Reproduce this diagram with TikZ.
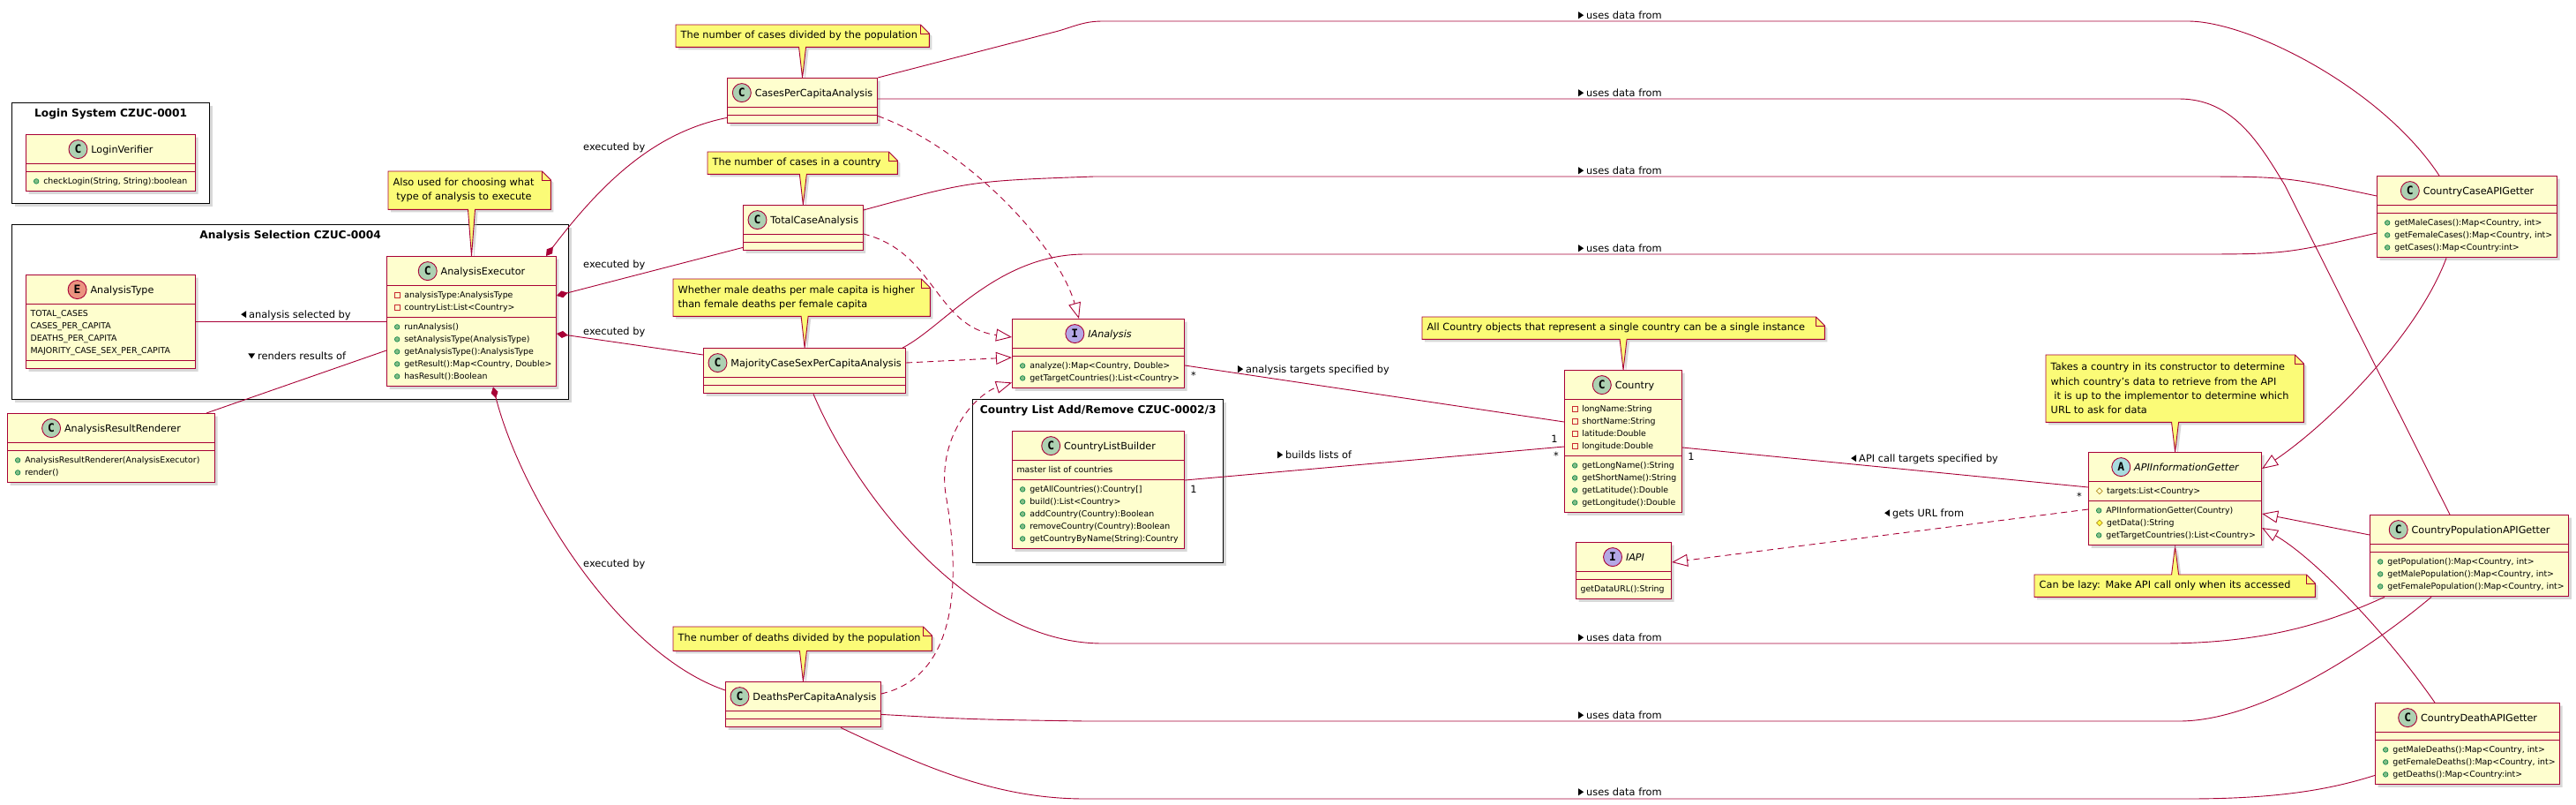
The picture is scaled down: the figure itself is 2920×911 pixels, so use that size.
\documentclass[tikz,border=0pt]{standalone}
\usepackage{fontspec}
\setmainfont{DejaVu Sans}
\newfontfamily\iconfont{DejaVu Sans Mono}
\usetikzlibrary{shapes.multipart,arrows.meta,calc,shadows}
\definecolor{umlRed}{HTML}{A80036}
\definecolor{classFill}{HTML}{FEFECE}
\definecolor{noteFill}{HTML}{FBFB77}
\definecolor{iconC}{HTML}{ADD1B2}
\definecolor{iconE}{HTML}{EB937F}
\definecolor{iconI}{HTML}{B4A7E5}
\definecolor{iconA}{HTML}{A9DCDF}
\definecolor{pubFill}{HTML}{84BE84}
\definecolor{pubLine}{HTML}{038048}
\definecolor{privLine}{HTML}{C82930}
\definecolor{protLine}{HTML}{B38D22}
\definecolor{protFill}{HTML}{FFFF44}
\pgfdeclarelayer{bg}
\pgfsetlayers{bg,main}

\newcommand{\membfont}{\fontsize{9.4}{14}\selectfont}
\newcommand{\namefont}{\fontsize{11.2}{13}\selectfont}
\newcommand{\notefont}{\fontsize{11.3}{16.3}\selectfont}
\newcommand{\edgefont}{\fontsize{11.4}{13}\selectfont}
\newcommand{\pkgfont}{\fontsize{12.2}{14}\selectfont\bfseries}

\tikzset{
  shadowed/.style={drop shadow={shadow xshift=3pt,shadow yshift=-3pt,fill=black!30,opacity=.5}},
  icon/.style={shape=circle,anchor=center,draw=umlRed,line width=.9pt,inner sep=0pt,minimum size=21pt,
    text=black,font=\iconfont\fontsize{13}{13}\selectfont\bfseries},
  umlclass/.style={rectangle split,rectangle split parts=3,rectangle split part align={center,left,left},
    draw=umlRed,fill=classFill,line width=1.1pt,inner xsep=5pt,inner ysep=3.5pt,
    font=\membfont,anchor=north west,shadowed},
  pkg/.style={draw=black,fill=white,line width=1.4pt,inner sep=0pt,anchor=north west,shadowed},
  pkgtitle/.style={font=\pkgfont,inner sep=0pt,anchor=base},
  notetext/.style={anchor=north west,inner xsep=5.5pt,inner ysep=0pt,align=left,font=\notefont},
  noteshape/.style={draw=umlRed,fill=noteFill,line width=.9pt,shadowed},
  assoc/.style={draw=umlRed,line width=.9pt},
  compose/.style={assoc,{Diamond[length=13pt,width=8pt]}-},
  realize/.style={assoc,dash pattern=on 7pt off 5pt,-{Triangle[open,length=18pt,width=14pt]}},
  extend/.style={assoc,-{Triangle[open,length=18pt,width=14pt]}},
  lbl/.style={font=\edgefont,inner sep=0pt,anchor=west},
  mult/.style={font=\edgefont,inner sep=0pt}
}

% class header: letter, circle colour, name
\newcommand{\hdr}[3]{\rule[-8.5pt]{0pt}{25pt}\tikz[baseline=-4pt]\node[icon,fill=#2]{#1};\hspace{4pt}{\namefont #3}}
% an empty compartment
\newcommand{\emptyc}{\rule{0pt}{1pt}\hspace*{1pt}}
% a compartment of several lines
\newcommand{\mlist}[1]{\begin{tabular}{@{}l@{}}#1\end{tabular}}
% members
\newcommand{\pubm}[1]{\strut\hspace*{3.5pt}\tikz[baseline=-3.2pt]\filldraw[fill=pubFill,draw=pubLine,line width=.6pt] (0pt,0pt) circle[radius=2.8pt];\hspace{5pt}#1}
\newcommand{\privm}[1]{\strut\hspace*{3.5pt}\tikz[baseline=-3.2pt]\draw[privLine,line width=.7pt] (-2.8pt,-2.8pt) rectangle (2.8pt,2.8pt);\hspace{5pt}#1}
\newcommand{\protf}[1]{\strut\hspace*{3.5pt}\tikz[baseline=-3.2pt]\draw[protLine,line width=.7pt] (0pt,3.4pt) -- (3.4pt,0pt) -- (0pt,-3.4pt) -- (-3.4pt,0pt) -- cycle;\hspace{4.5pt}#1}
\newcommand{\protm}[1]{\strut\hspace*{3.5pt}\tikz[baseline=-3.2pt]\filldraw[fill=protFill,draw=protLine,line width=.7pt] (0pt,3.4pt) -- (3.4pt,0pt) -- (0pt,-3.4pt) -- (-3.4pt,0pt) -- cycle;\hspace{4.5pt}#1}
% direction marks on edge labels
\newcommand{\rtri}{\tikz[baseline=0pt]\fill (0pt,0pt) -- (0pt,8pt) -- (6pt,4pt) -- cycle;\hspace{3pt}}
\newcommand{\ltri}{\tikz[baseline=0pt]\fill (6pt,0pt) -- (6pt,8pt) -- (0pt,4pt) -- cycle;\hspace{3pt}}
\newcommand{\dtri}{\tikz[baseline=0pt]\fill (0pt,7pt) -- (8pt,7pt) -- (4pt,1pt) -- cycle;\hspace{3pt}}

% note outline under the text, pointer going down to #2
\newcommand{\notedown}[2]{%
  \begin{pgfonlayer}{bg}
    \draw[noteshape] (#1.north west) -- ($(#1.north east)+(-10,0)$) -- ($(#1.north east)+(0,10)$)
      -- (#1.south east) -- ($(#1.south -| #2)+(4,0)$) -- (#2) -- ($(#1.south -| #2)+(-4,0)$)
      -- (#1.south west) -- cycle;
    \draw[assoc] ($(#1.north east)+(-10,0)$) -- ($(#1.north east)+(-10,10)$) -- ($(#1.north east)+(0,10)$);
  \end{pgfonlayer}}

\begin{document}
\begin{tikzpicture}[x=1pt,y=-1pt]
  \useasboundingbox (0,0) rectangle (2920,911);
  \begin{pgfonlayer}{bg}
    \fill[white] (0,0) rectangle (2920,911);
    \node[pkg,minimum width=224pt,minimum height=114pt] (pkglogin) at (13,116) {};
    \node[pkg,minimum width=631pt,minimum height=198pt] (pkgsel) at (13,254) {};
    \node[pkg,minimum width=284pt,minimum height=185pt] (pkglist) at (1102,452) {};
  \end{pgfonlayer}
  \node[pkgtitle] (tlogin) at ($(pkglogin.north)+(0,16.5)$) {Login System CZUC-0001};
  \node[pkgtitle] (tsel) at ($(pkgsel.north)+(0,16.5)$) {Analysis Selection CZUC-0004};
  \node[pkgtitle] (tlist) at ($(pkglist.north)+(0,16.5)$) {Country List Add/Remove CZUC-0002/3};

  % classes
  \node[umlclass,minimum width=192pt] (lv) at (29,152)
    {\hdr{C}{iconC}{LoginVerifier}\nodepart{two}\emptyc\nodepart{three}\pubm{checkLogin(String, String):boolean}};
  \node[umlclass,minimum width=192pt] (atype) at (29,311)
    {\hdr{E}{iconE}{AnalysisType}\nodepart{two}\mlist{TOTAL\_CASES\\CASES\_PER\_CAPITA\\DEATHS\_PER\_CAPITA\\MAJORITY\_CASE\_SEX\_PER\_CAPITA}\nodepart{three}\emptyc};
  \node[umlclass,minimum width=190pt] (aexec) at (438,290)
    {\hdr{C}{iconC}{AnalysisExecutor}\nodepart{two}\mlist{\privm{analysisType:AnalysisType}\\\privm{countryList:List<Country>}}
     \nodepart{three}\mlist{\pubm{runAnalysis()}\\\pubm{setAnalysisType(AnalysisType)}\\\pubm{getAnalysisType():AnalysisType}\\\pubm{getResult():Map<Country, Double>}\\\pubm{hasResult():Boolean}}};
  \node[umlclass,minimum width=235pt] (arend) at (8,468)
    {\hdr{C}{iconC}{AnalysisResultRenderer}\nodepart{two}\emptyc\nodepart{three}\mlist{\pubm{AnalysisResultRenderer(AnalysisExecutor)}\\\pubm{render()}}};
  \node[umlclass,minimum width=170pt] (cpc) at (824,88) {\hdr{C}{iconC}{CasesPerCapitaAnalysis}\nodepart{two}\emptyc\nodepart{three}\emptyc};
  \node[umlclass,minimum width=135pt] (tca) at (842,232) {\hdr{C}{iconC}{TotalCaseAnalysis}\nodepart{two}\emptyc\nodepart{three}\emptyc};
  \node[umlclass,minimum width=224pt] (mcs) at (797,394) {\hdr{C}{iconC}{MajorityCaseSexPerCapitaAnalysis}\nodepart{two}\emptyc\nodepart{three}\emptyc};
  \node[umlclass,minimum width=173pt] (dpc) at (822,772) {\hdr{C}{iconC}{DeathsPerCapitaAnalysis}\nodepart{two}\emptyc\nodepart{three}\emptyc};
  \node[umlclass,minimum width=195pt] (ianalysis) at (1147,361)
    {\hdr{I}{iconI}{\itshape IAnalysis}\nodepart{two}\emptyc\nodepart{three}\mlist{\pubm{analyze():Map<Country, Double>}\\\pubm{getTargetCountries():List<Country>}}};
  \node[umlclass,minimum width=195pt] (clb) at (1147,488)
    {\hdr{C}{iconC}{CountryListBuilder}\nodepart{two}\strut master list of countries
     \nodepart{three}\mlist{\pubm{getAllCountries():Country[]}\\\pubm{build():List<Country>}\\\pubm{addCountry(Country):Boolean}\\\pubm{removeCountry(Country):Boolean}\\\pubm{getCountryByName(String):Country}}};
  \node[umlclass,minimum width=133pt] (country) at (1773,419)
    {\hdr{C}{iconC}{Country}\nodepart{two}\mlist{\privm{longName:String}\\\privm{shortName:String}\\\privm{latitude:Double}\\\privm{longitude:Double}}
     \nodepart{three}\mlist{\pubm{getLongName():String}\\\pubm{getShortName():String}\\\pubm{getLatitude():Double}\\\pubm{getLongitude():Double}}};
  \node[umlclass,minimum width=108pt] (iapi) at (1786,614)
    {\hdr{I}{iconI}{\itshape IAPI}\nodepart{two}\emptyc\nodepart{three}\strut getDataURL():String};
  \node[umlclass,minimum width=196pt] (apiget) at (2367,512)
    {\hdr{A}{iconA}{\itshape APIInformationGetter}\nodepart{two}\protf{targets:List<Country>}
     \nodepart{three}\mlist{\pubm{APIInformationGetter(Country)}\\\protm{getData():String}\\\pubm{getTargetCountries():List<Country>}}};
  \node[umlclass,minimum width=204pt] (ccase) at (2694,199)
    {\hdr{C}{iconC}{CountryCaseAPIGetter}\nodepart{two}\emptyc\nodepart{three}\mlist{\pubm{getMaleCases():Map<Country, int>}\\\pubm{getFemaleCases():Map<Country, int>}\\\pubm{getCases():Map<Country:int>}}};
  \node[umlclass,minimum width=221pt] (cpop) at (2686,583)
    {\hdr{C}{iconC}{CountryPopulationAPIGetter}\nodepart{two}\emptyc\nodepart{three}\mlist{\pubm{getPopulation():Map<Country, int>}\\\pubm{getMalePopulation():Map<Country, int>}\\\pubm{getFemalePopulation():Map<Country, int>}}};
  \node[umlclass,minimum width=207pt] (cdeath) at (2692,796)
    {\hdr{C}{iconC}{CountryDeathAPIGetter}\nodepart{two}\emptyc\nodepart{three}\mlist{\pubm{getMaleDeaths():Map<Country, int>}\\\pubm{getFemaleDeaths():Map<Country, int>}\\\pubm{getDeaths():Map<Country:int>}}};

  % notes
  \node[notetext,minimum height=43pt,text width=173pt] (nexec) at (440,194) {Also used for choosing what\\\ type of analysis to execute};
  \notedown{nexec}{aexec.north}
  \node[notetext,minimum height=25pt,text width=276pt] (ncpc) at (766,28) {The number of cases divided by the population};
  \notedown{ncpc}{cpc.north}
  \node[notetext,minimum height=25pt,text width=204pt] (ntca) at (802,172) {The number of cases in a country};
  \notedown{ntca}{tca.north}
  \node[notetext,minimum height=42pt,text width=280pt] (nmcs) at (763,316) {Whether male deaths per male capita is higher\\than female deaths per female capita};
  \notedown{nmcs}{mcs.north}
  \node[notetext,minimum height=27pt,text width=282pt] (ndpc) at (763,710) {The number of deaths divided by the population};
  \notedown{ndpc}{dpc.north}
  \node[notetext,minimum height=25pt,text width=445pt] (ncountry) at (1612,359) {All Country objects that represent a single country can be a single instance};
  \notedown{ncountry}{country.north}
  \node[notetext,minimum height=76pt,text width=281pt] (napi) at (2319,402) {Takes a country in its constructor to determine\\which country's data to retrieve from the API\\\ it is up to the implementor to determine which\\URL to ask for data};
  \notedown{napi}{apiget.north}
  \node[notetext,minimum height=25pt,text width=307pt] (nlazy) at (2306,651) {Can be lazy: Make API call only when its accessed};
  \begin{pgfonlayer}{bg}
    \draw[noteshape] (nlazy.north west) -- ($(nlazy.north -| apiget.south)+(-4,0)$) -- (apiget.south)
      -- ($(nlazy.north -| apiget.south)+(4,0)$) -- ($(nlazy.north east)+(-10,0)$) -- ($(nlazy.north east)+(0,10)$)
      -- (nlazy.south east) -- (nlazy.south west) -- cycle;
    \draw[assoc] ($(nlazy.north east)+(-10,0)$) -- ($(nlazy.north east)+(-10,10)$) -- ($(nlazy.north east)+(0,10)$);
  \end{pgfonlayer}

  % analysis selection
  \draw[assoc] (atype.east) -- (aexec.west |- atype.east);
  \node[lbl] (lsel) at (273,357) {\ltri analysis selected by};
  \draw[assoc] ($(arend.north west)+(226,0)$) -- ($(aexec.north west)+(0,107)$);
  \node[lbl] (lrend) at (281,403) {\dtri renders results of};

  % executed by
  \draw[compose] ($(aexec.north east)+(-12,0)$) .. controls (680,210) and (740,150) .. ($(cpc.south west)+(0,-7)$);
  \draw[compose] ($(aexec.north east)+(0,45)$) -- ($(tca.south west)+(0,-4)$);
  \draw[compose] ($(aexec.north east)+(0,88)$) -- ($(mcs.north west)+(0,8)$);
  \draw[compose] ($(aexec.south west)+(121,0)$) .. controls (590,560) and (700,740) .. ($(dpc.north west)+(0,10)$);
  \node[lbl] (lex1) at (661,167) {executed by};
  \node[lbl] (lex2) at (661,300) {executed by};
  \node[lbl] (lex3) at (661,376) {executed by};
  \node[lbl] (lex4) at (661,639) {executed by};

  % implementations of IAnalysis
  \draw[realize] ($(cpc.south east)+(0,-9)$) .. controls (1100,170) and (1200,280) .. ($(ianalysis.north west)+(76,0)$);
  \draw[realize] ($(tca.north east)+(0,33)$) .. controls (1060,285) and (1060,370) .. ($(ianalysis.north west)+(0,21)$);
  \draw[realize] ($(mcs.north east)+(0,17)$) -- ($(ianalysis.north west)+(0,44)$);
  \draw[realize] ($(dpc.north east)+(0,14)$) .. controls (1070,770) and (1095,690) .. (1072,560)
    .. controls (1062,490) and (1110,445) .. ($(ianalysis.south west)+(0,-7)$);

  % uses data from
  \draw[assoc] (cpc.north east) -- (1200,35) .. controls (1220,29) and (1230,24) .. (1250,24) -- (2480,24)
    .. controls (2550,24) and (2700,100) .. ($(ccase.north west)+(71,0)$);
  \draw[assoc] ($(cpc.north east)+(0,24)$) -- (2470,112) .. controls (2530,112) and (2560,160) .. (2590,210)
    -- ($(cpop.north west)+(91,0)$);
  \draw[assoc] ($(tca.north east)+(0,6)$) .. controls (1100,205) .. (1240,200) -- (2480,200)
    .. controls (2590,200) .. ($(ccase.north west)+(0,23)$);
  \draw[assoc] ($(mcs.north east)+(-4,0)$) .. controls (1070,370) and (1130,288) .. (1230,288) -- (2480,288)
    .. controls (2590,288) .. ($(ccase.north west)+(0,65)$);
  \draw[assoc] ($(mcs.south west)+(125,0)$) .. controls (970,560) and (1100,729) .. (1250,729) -- (2450,729)
    .. controls (2580,729) and (2650,700) .. ($(cpop.south west)+(17,0)$);
  \draw[assoc] ($(dpc.south east)+(0,-15)$) .. controls (1100,815) .. (1230,817) -- (2470,817)
    .. controls (2560,817) and (2680,740) .. ($(cpop.south west)+(70,0)$);
  \draw[assoc] ($(dpc.south west)+(131,0)$) .. controls (1050,870) and (1130,905) .. (1230,905) -- (2479,905)
    .. controls (2580,905) and (2640,895) .. ($(cdeath.south west)+(0,-11)$);
  \node[lbl] (lu1) at (1789,17) {\rtri uses data from};
  \node[lbl] (lu2) at (1789,105) {\rtri uses data from};
  \node[lbl] (lu3) at (1789,193) {\rtri uses data from};
  \node[lbl] (lu4) at (1789,281) {\rtri uses data from};
  \node[lbl] (lu5) at (1789,722) {\rtri uses data from};
  \node[lbl] (lu6) at (1789,810) {\rtri uses data from};
  \node[lbl] (lu7) at (1789,897) {\rtri uses data from};

  % country associations
  \draw[assoc] ($(ianalysis.north east)+(0,53)$) -- ($(country.north west)+(0,59)$);
  \node[lbl] (ltarget) at (1403,419) {\rtri analysis targets specified by};
  \node[mult] (m1) at (1353,425) {*};
  \node[mult] (m2) at (1762,497) {1};
  \draw[assoc] ($(clb.north east)+(0,56)$) -- ($(country.north west)+(0,87)$);
  \node[lbl] (lbuild) at (1448,515) {\rtri builds lists of};
  \node[mult] (m3) at (1353,554) {1};
  \node[mult] (m4) at (1764,516) {*};
  \draw[assoc] ($(country.north east)+(0,88)$) -- ($(apiget.north west)+(0,40)$);
  \node[lbl] (lcall) at (2098,520) {\ltri API call targets specified by};
  \node[mult] (m5) at (1917,517) {1};
  \node[mult] (m6) at (2357,562) {*};
  \draw[realize] ($(apiget.north west)+(0,65)$) -- ($(iapi.north east)+(0,23)$);
  \node[lbl] (lurl) at (2136,582) {\ltri gets URL from};

  % getters extend APIInformationGetter
  \draw[extend] ($(ccase.south west)+(79,0)$) .. controls (2740,380) and (2640,480) .. ($(apiget.north east)+(0,19)$);
  \draw[extend] ($(cpop.north west)+(0,23)$) -- ($(apiget.north east)+(0,70)$);
  \draw[extend] ($(cdeath.north west)+(68,0)$) .. controls (2700,710) and (2620,630) .. ($(apiget.north east)+(0,86)$);
\end{tikzpicture}
\end{document}
